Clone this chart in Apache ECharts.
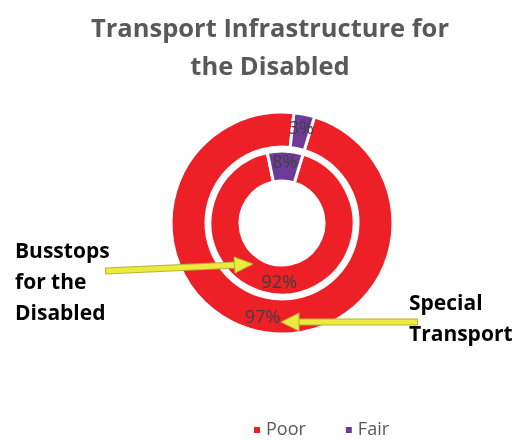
<!DOCTYPE html>
<html>
<head>
<meta charset="utf-8">
<script src="https://cdn.jsdelivr.net/npm/echarts@6/dist/echarts.min.js"></script>
<style>
  html, body { margin: 0; padding: 0; background: #fff; }
  #chart { width: 515px; height: 440px; }
</style>
</head>
<body>
<div id="chart"></div>
<script>
// ratings shown in both rings
const categories = ['Poor', 'Fair'];
const colors = ['#ed2027', '#6d3a98'];
// outer ring: special transport, inner ring: busstops
const specialTransport = [97, 3];
const busstops = [92, 8];

const chart = echarts.init(document.getElementById('chart'));

const ringData = vals => vals.map((v, i) => ({
    name: categories[i],
    value: v,
    itemStyle: { color: colors[i] }
}));

const labelStyle = {
    show: true,
    position: 'inside',
    formatter: p => p.value + '%',
    color: '#404040',
    fontSize: 18,
    fontFamily: 'Open Sans'
};

const yellow = '#ecea3c';
const edge = '#b5b43a';

const option = {
    animation: false,
    legend: {
        top: 416,
        left: 247,
        icon: 'rect',
        itemWidth: 8,
        itemHeight: 8,
        itemGap: 38,
        data: categories,
        textStyle: { color: '#595959', fontSize: 18, fontFamily: 'Open Sans' }
    },
    series: [
        {
            name: 'Special Transport',
            type: 'pie',
            center: [282, 223],
            radius: [76, 111],
            startAngle: 73,
            clockwise: true,
            itemStyle: { borderColor: '#fff', borderWidth: 3 },
            label: labelStyle,
            labelLine: { show: false },
            data: ringData(specialTransport)
        },
        {
            name: 'Busstops for the Disabled',
            type: 'pie',
            center: [282, 223],
            radius: [42, 72],
            startAngle: 73,
            clockwise: true,
            itemStyle: { borderColor: '#fff', borderWidth: 3 },
            label: labelStyle,
            labelLine: { show: false },
            data: ringData(busstops)
        }
    ],
    graphic: [
        {
            type: 'text',
            x: 270,
            y: 11,
            z: 10,
            style: {
                text: 'Transport Infrastructure for\nthe Disabled',
                fill: '#595959',
                font: 'bold 25.5px "Open Sans"',
                lineHeight: 38,
                align: 'center'
            }
        },
        {
            type: 'text',
            left: 15,
            top: 237,
            z: 10,
            style: {
                text: 'Busstops\nfor the\nDisabled',
                fill: '#000',
                font: 'bold 21px "Open Sans"',
                lineHeight: 31
            }
        },
        {
            type: 'text',
            left: 409,
            top: 289,
            z: 10,
            style: {
                text: 'Special\nTransport',
                fill: '#000',
                font: 'bold 21px "Open Sans"',
                lineHeight: 31
            }
        },
        {
            type: 'line',
            z: 10,
            shape: { x1: 105, y1: 271, x2: 237, y2: 265 },
            style: { stroke: edge, lineWidth: 7 }
        },
        {
            type: 'line',
            z: 11,
            shape: { x1: 106, y1: 271, x2: 237, y2: 265 },
            style: { stroke: yellow, lineWidth: 5 }
        },
        {
            type: 'polygon',
            z: 12,
            shape: { points: [[234, 257], [253, 264], [235, 273]] },
            style: { fill: yellow, stroke: edge, lineWidth: 1 }
        },
        {
            type: 'line',
            z: 10,
            shape: { x1: 418, y1: 322, x2: 296, y2: 322 },
            style: { stroke: edge, lineWidth: 7 }
        },
        {
            type: 'line',
            z: 11,
            shape: { x1: 417, y1: 322, x2: 296, y2: 322 },
            style: { stroke: yellow, lineWidth: 5 }
        },
        {
            type: 'polygon',
            z: 12,
            shape: { points: [[299, 313], [281, 322], [299, 331]] },
            style: { fill: yellow, stroke: edge, lineWidth: 1 }
        }
    ]
};

chart.setOption(option);
window.addEventListener('resize', () => chart.resize());
</script>
</body>
</html>
